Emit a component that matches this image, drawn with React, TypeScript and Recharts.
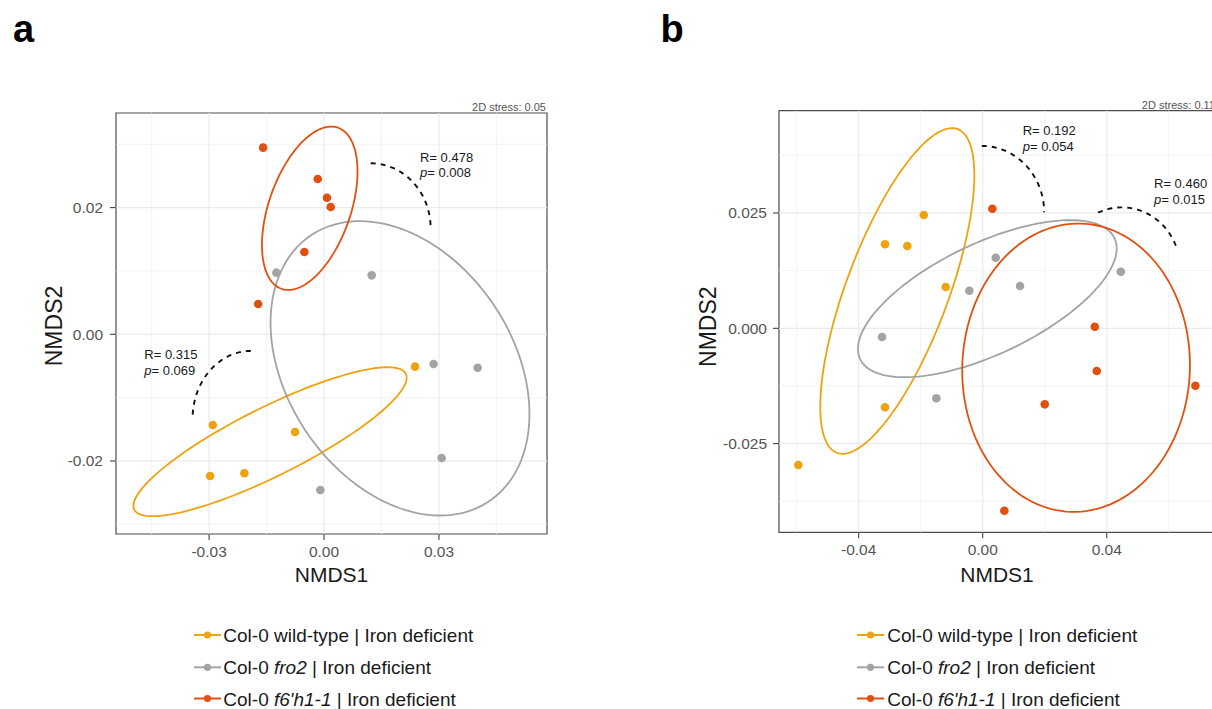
import React from 'react';
import {
  ScatterChart,
  Scatter,
  XAxis,
  YAxis,
  ReferenceLine,
  ReferenceArea,
} from 'recharts';

const FONT = '"Liberation Sans", Arial, Helvetica, sans-serif';

const colWild = '#EFA20F';
const colFro2 = '#A3A3A3';
const colF6 = '#E2500F';

// panel a — NMDS points
const aWildX = [0.02374, -0.02904, -0.00757, -0.02974, -0.0208];
const aWildY = [-0.00511, -0.01432, -0.01543, -0.02237, -0.02195];
const aFro2X = [-0.01244, 0.01244, 0.0286, 0.0401, 0.0307, -0.00096];
const aFro2Y = [0.00973, 0.00931, -0.00469, -0.00527, -0.01953, -0.02459];
const aF6X = [-0.0159, -0.00165, 0.00078, 0.00174, -0.00513, -0.0172];
const aF6Y = [0.02947, 0.02452, 0.02157, 0.0201, 0.013, 0.00478];

// panel b — NMDS points
const bWildX = [-0.01903, -0.03152, -0.02432, -0.01194, -0.03152, -0.05948];
const bWildY = [0.02456, 0.01821, 0.01784, 0.00895, -0.01713, -0.02963];
const bFro2X = [0.00419, -0.00432, 0.01203, 0.04452, -0.03248, -0.01497];
const bFro2Y = [0.0153, 0.00815, 0.00917, 0.01227, -0.00189, -0.01517];
const bF6X = [0.0031, 0.03613, 0.03677, 0.06858, 0.02, 0.00697];
const bF6Y = [0.02593, 0.00035, -0.00926, -0.01244, -0.01648, -0.03954];

// ellipses: [cx, cy, half x-extent, half y-extent, cos(phase)]
const aEllWild = [-0.01409, -0.01696, 0.03566, 0.01176, 0.86];
const aEllFro2 = [0.01983, -0.00537, 0.03379, 0.02324, -0.31];
const aEllF6 = [-0.00373, 0.0199, 0.01247, 0.0129, 0.449];
const bEllWild = [-0.02755, 0.00809, 0.02484, 0.0353, 0.71];
const bEllFro2 = [0.00148, 0.00642, 0.04172, 0.01702, 0.64];
const bEllF6 = [0.0301, -0.00854, 0.03672, 0.03125, 0.02];

// dashed arcs: [cx, cy, rx, ry, start deg, end deg]
const aArcs = [
  [0.01218, 0.01674, 0.01565, 0.01026, 90, 0],
  [-0.01912, -0.01337, 0.0152, 0.01074, 90, 180],
];
const bArcs = [
  [-0.0003, 0.02515, 0.0201, 0.01438, 90, 0],
  [0.04484, 0.01285, 0.01882, 0.01337, 114, 19],
];

const aTicksX = [-0.03, 0, 0.03];
const aTicksY = [-0.02, 0, 0.02];
const aMinorX = [-0.045, -0.015, 0.015, 0.045];
const aMinorY = [-0.03, -0.01, 0.01, 0.03];
const bTicksX = [-0.04, 0, 0.04];
const bTicksY = [-0.025, 0, 0.025];
const bMinorX = [-0.06, -0.02, 0.02, 0.06];
const bMinorY = [-0.0375, -0.0125, 0.0125, 0.0375];

const groups = [
  { pre: 'Col-0 ', it: '', post: 'wild-type | Iron deficient', color: colWild },
  { pre: 'Col-0 ', it: 'fro2', post: ' | Iron deficient', color: colFro2 },
  { pre: 'Col-0 ', it: "f6'h1-1", post: ' | Iron deficient', color: colF6 },
];

const pts = (xs: number[], ys: number[]) => xs.map((x, i) => ({ x, y: ys[i] }));

function ellipse(e: number[]) {
  const [cx, cy, rx, ry, c] = e;
  const d = Math.acos(c);
  const out = [];
  for (let i = 0; i <= 144; i++) {
    const t = (i / 144) * Math.PI * 2;
    out.push({ x: cx + rx * Math.cos(t), y: cy + ry * Math.cos(t + d) });
  }
  return out;
}

function arc(a: number[]) {
  const [cx, cy, rx, ry, s, e] = a;
  const out = [];
  for (let i = 0; i <= 60; i++) {
    const t = ((s + ((e - s) * i) / 60) * Math.PI) / 180;
    out.push({ x: cx + rx * Math.cos(t), y: cy + ry * Math.sin(t) });
  }
  return out;
}

const noShape = () => <g />;
const dot = (color: string) => (p: any) => (
  <circle cx={p.cx} cy={p.cy} r={4.3} fill={color} />
);

type PanelProps = {
  width: number;
  height: number;
  margin: { top: number; right: number; bottom: number; left: number };
  xDomain: [number, number];
  yDomain: [number, number];
  ticksX: number[];
  ticksY: number[];
  minorX: number[];
  minorY: number[];
  digitsX: number;
  digitsY: number;
  yTickMargin: number;
  series: { x: number[]; y: number[]; color: string }[];
  ells: { e: number[]; color: string }[];
  arcs: number[][];
};

function Panel(p: PanelProps) {
  return (
    <ScatterChart width={p.width} height={p.height} margin={p.margin}>
      <XAxis
        type="number"
        dataKey="x"
        domain={p.xDomain}
        allowDataOverflow
        ticks={p.ticksX}
        tickFormatter={(v: number) => v.toFixed(p.digitsX)}
        axisLine={false}
        tickLine={{ stroke: '#333333' }}
        tickSize={6}
        tickMargin={6}
        height={40}
        tick={{ fill: '#555555', fontSize: 15.5, fontFamily: FONT }}
      />
      <YAxis
        type="number"
        dataKey="y"
        domain={p.yDomain}
        allowDataOverflow
        ticks={p.ticksY}
        tickFormatter={(v: number) => v.toFixed(p.digitsY)}
        axisLine={false}
        tickLine={{ stroke: '#333333' }}
        tickSize={6}
        tickMargin={p.yTickMargin}
        width={60}
        tick={{ fill: '#555555', fontSize: 15.5, fontFamily: FONT }}
      />
      {p.minorX.map((v) => (
        <ReferenceLine key={'mx' + v} x={v} stroke="#f0f0f0" strokeWidth={0.8} />
      ))}
      {p.minorY.map((v) => (
        <ReferenceLine key={'my' + v} y={v} stroke="#f0f0f0" strokeWidth={0.8} />
      ))}
      {p.ticksX.map((v) => (
        <ReferenceLine key={'x' + v} x={v} stroke="#ebebeb" strokeWidth={1.2} />
      ))}
      {p.ticksY.map((v) => (
        <ReferenceLine key={'y' + v} y={v} stroke="#ebebeb" strokeWidth={1.2} />
      ))}
      {p.series.map((s, i) => (
        <Scatter
          key={'s' + i}
          data={pts(s.x, s.y)}
          fill={s.color}
          shape={dot(s.color)}
          isAnimationActive={false}
        />
      ))}
      {p.ells.map((el, i) => (
        <Scatter
          key={'e' + i}
          data={ellipse(el.e)}
          fill={el.color}
          line={{ stroke: el.color, strokeWidth: 1.8 }}
          lineType="joint"
          shape={noShape}
          isAnimationActive={false}
        />
      ))}
      {p.arcs.map((a, i) => (
        <Scatter
          key={'a' + i}
          data={arc(a)}
          fill="#000"
          line={{ stroke: '#111111', strokeWidth: 1.9, strokeDasharray: '5 5' }}
          lineType="joint"
          shape={noShape}
          isAnimationActive={false}
        />
      ))}
      <ReferenceArea
        x1={p.xDomain[0]}
        x2={p.xDomain[1]}
        y1={p.yDomain[0]}
        y2={p.yDomain[1]}
        fill="none"
        stroke="#4d4d4d"
        strokeWidth={1.2}
        ifOverflow="visible"
      />
    </ScatterChart>
  );
}

function Note({ x, y, r, pv }: { x: number; y: number; r: string; pv: string }) {
  return (
    <g fontSize={13} fill="#1a1a1a">
      <text x={x} y={y}>R= {r}</text>
      <text x={x} y={y + 15.5}>
        <tspan fontStyle="italic">p</tspan>= {pv}
      </text>
    </g>
  );
}

function LegendBlock({ x, text }: { x: number; text: number }) {
  const rows = [635, 667.3, 698.5];
  return (
    <g>
      {groups.map((g, i) => (
        <g key={i}>
          <line x1={x} x2={x + 27} y1={rows[i]} y2={rows[i]} stroke={g.color} strokeWidth={2} />
          <circle cx={x + 13.5} cy={rows[i]} r={3.6} fill={g.color} />
          <text x={text} y={rows[i] + 7} fontSize={19} fill="#1a1a1a">
            {g.pre}
            {g.it ? <tspan fontStyle="italic">{g.it}</tspan> : null}
            {g.post}
          </text>
        </g>
      ))}
    </g>
  );
}

export default function App() {
  return (
    <div
      style={{
        position: 'absolute',
        left: 0,
        top: 0,
        width: 1212,
        height: 709,
        overflow: 'hidden',
        background: '#fff',
        fontFamily: FONT,
      }}
    >
      <div style={{ position: 'absolute', left: 0, top: 0 }}>
        <Panel
          width={560}
          height={600}
          margin={{ top: 113, right: 13, bottom: 26, left: 56 }}
          xDomain={[-0.0543, 0.0582]}
          yDomain={[-0.03153, 0.03494]}
          ticksX={aTicksX}
          ticksY={aTicksY}
          minorX={aMinorX}
          minorY={aMinorY}
          digitsX={2}
          digitsY={2}
          yTickMargin={7}
          series={[
            { x: aWildX, y: aWildY, color: colWild },
            { x: aFro2X, y: aFro2Y, color: colFro2 },
            { x: aF6X, y: aF6Y, color: colF6 },
          ]}
          ells={[
            { e: aEllWild, color: colWild },
            { e: aEllFro2, color: colFro2 },
            { e: aEllF6, color: colF6 },
          ]}
          arcs={aArcs}
        />
      </div>
      <div style={{ position: 'absolute', left: 660, top: 0 }}>
        <Panel
          width={570}
          height={600}
          margin={{ top: 110.7, right: 15, bottom: 27.7, left: 59 }}
          xDomain={[-0.0657, 0.0749]}
          yDomain={[-0.04422, 0.04717]}
          ticksX={bTicksX}
          ticksY={bTicksY}
          minorX={bMinorX}
          minorY={bMinorY}
          digitsX={2}
          digitsY={3}
          yTickMargin={6}
          series={[
            { x: bWildX, y: bWildY, color: colWild },
            { x: bFro2X, y: bFro2Y, color: colFro2 },
            { x: bF6X, y: bF6Y, color: colF6 },
          ]}
          ells={[
            { e: bEllWild, color: colWild },
            { e: bEllFro2, color: colFro2 },
            { e: bEllF6, color: colF6 },
          ]}
          arcs={bArcs}
        />
      </div>
      <svg
        width={1212}
        height={709}
        style={{ position: 'absolute', left: 0, top: 0, pointerEvents: 'none' }}
        fontFamily={FONT}
      >
        <text x={13} y={41.7} fontSize={38} fontWeight="bold" fill="#000">a</text>
        <text x={660.5} y={41.7} fontSize={38} fontWeight="bold" fill="#000">b</text>

        <text x={546} y={111} fontSize={11} fill="#555" textAnchor="end">2D stress: 0.05</text>
        <text x={1215} y={108.5} fontSize={11} fill="#555" textAnchor="end">2D stress: 0.11</text>

        <Note x={420} y={161.7} r="0.478" pv="0.008" />
        <Note x={144.3} y={359} r="0.315" pv="0.069" />
        <Note x={1022.7} y={135} r="0.192" pv="0.054" />
        <Note x={1154} y={188.3} r="0.460" pv="0.015" />

        <text x={331.5} y={581.7} fontSize={21} fill="#1a1a1a" textAnchor="middle">NMDS1</text>
        <text x={997} y={581.7} fontSize={21} fill="#1a1a1a" textAnchor="middle">NMDS1</text>
        <text
          transform="translate(61.7,326) rotate(-90)"
          fontSize={23}
          fill="#1a1a1a"
          textAnchor="middle"
        >
          NMDS2
        </text>
        <text
          transform="translate(716,326.7) rotate(-90)"
          fontSize={23}
          fill="#1a1a1a"
          textAnchor="middle"
        >
          NMDS2
        </text>

        <LegendBlock x={194} text={223.3} />
        <LegendBlock x={857} text={887.3} />
      </svg>
    </div>
  );
}
